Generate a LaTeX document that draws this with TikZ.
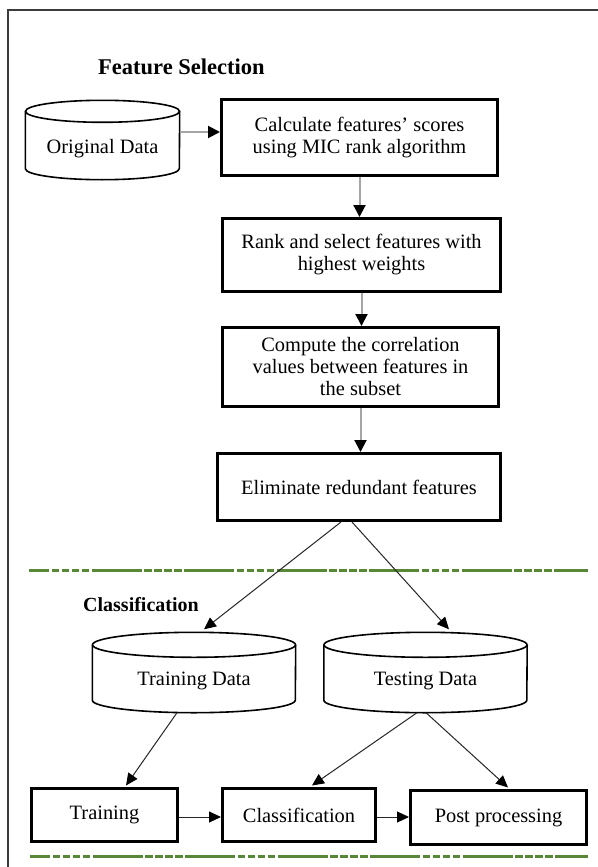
\documentclass[tikz,border=0pt]{standalone}
\usepackage{fontspec}
\setmainfont{Liberation Serif}
\usetikzlibrary{arrows.meta,calc}
\definecolor{framegray}{RGB}{60,60,60}
\definecolor{linkgray}{RGB}{165,165,165}
\definecolor{sepgreen}{RGB}{88,135,55}
\tikzset{
  stepbox/.style={draw=black, line width=3pt, align=center, inner sep=2pt,
    font=\fontsize{20.4}{22}\selectfont},
  drumtext/.style={inner sep=0pt, text height=30pt, text depth=4pt,
    font=\fontsize{20.4}{22}\selectfont},
  drumline/.style={draw=black, line width=1.6pt},
  heading/.style={anchor=west, inner sep=0pt, font=\bfseries\fontsize{20}{22}\selectfont},
  flowgray/.style={draw=linkgray, line width=2pt,
    -{Triangle[length=12pt,width=12pt,color=black]}},
  flowthin/.style={draw=black!85, line width=1pt,
    -{Triangle[length=12pt,width=11pt,color=black]}},
  separator/.style={draw=sepgreen, line width=3pt,
    dash pattern=on 50pt off 2.5pt on 7.5pt off 2.5pt on 7.5pt off 2.5pt on 7.5pt off 2.5pt on 7.5pt off 2.5pt,
    dash phase=30pt},
}
% data store drawn around a named node: #1 node, #2 x radius, #3 y radius of the caps
\newcommand\datadrum[3]{%
  \draw[drumline] ($(#1.north west)+(0,#3)$) -- ($(#1.south west)+(0,-#3)$)
    arc[start angle=180, end angle=0, x radius=#2, y radius=#3]
    -- ($(#1.north east)+(0,#3)$);
  \draw[drumline] ($(#1.north)+(0,#3)$) ellipse[x radius=#2, y radius=#3];
}
\begin{document}
\begin{tikzpicture}[x=1pt, y=-1pt]
\useasboundingbox (0,0) rectangle (597,867);
\fill[white] (0,0) rectangle (597,867);

% outer frame
\draw[framegray, line width=1.5pt] (8,870) -- (8,10) -- (600,10);

% feature selection stage
\node[heading, font=\bfseries\fontsize{22.5}{24}\selectfont] (fshead) at (98,67) {Feature Selection};
\node[drumtext, minimum width=154pt, minimum height=79pt] (orig) at (102.5,140) {Original Data};
\datadrum{orig}{77}{11}

\node[stepbox, minimum width=276pt, minimum height=76pt] (calc) at (359.5,137.5)
  {Calculate features' scores\\using MIC rank algorithm};
\node[stepbox, minimum width=278pt, minimum height=73pt] (rank) at (361.5,255)
  {Rank and select features with\\highest weights};
\node[stepbox, minimum width=276pt, minimum height=79pt] (corr) at (360.5,367)
  {Compute the correlation\\values between features in\\the subset};
\node[stepbox, minimum width=283pt, minimum height=67pt] (elim) at (359,487)
  {Eliminate redundant features};

\draw[flowgray] (orig.east |- 0,132) -- (calc.west |- 0,132);
\draw[flowgray] (calc.south) -- (calc.south |- rank.north);
\draw[flowgray] (rank.south) -- (rank.south |- corr.north);
\draw[flowgray] (corr.south) -- (corr.south |- elim.north);

% stage separators
\draw[separator] (29,570) -- (588,570);
\draw[separator] (30,856) -- (588,856);

% classification stage
\node[heading] (clhead) at (83,605) {Classification};
\node[drumtext, minimum width=203pt, minimum height=80pt] (train) at (194,672.5) {Training Data};
\datadrum{train}{101.5}{12.5}
\node[drumtext, minimum width=203pt, minimum height=80pt] (test) at (425.5,672.5) {Testing Data};
\datadrum{test}{101.5}{12.5}

\node[stepbox, minimum width=146pt, minimum height=53pt] (trainbox) at (104.5,815) {Training};
\node[stepbox, minimum width=153pt, minimum height=53pt] (classbox) at (299,815) {Classification};
\node[stepbox, minimum width=176pt, minimum height=54pt] (postbox) at (498.5,817.5) {Post processing};

\draw[flowthin] ($(elim.south)+(-18,0)$) -- ($(train.north)+(10,-3)$);
\draw[flowthin] ($(elim.south)+(-7,0)$) -- ($(test.north)+(23.5,-3)$);
\draw[flowthin] ($(train.south)+(-17,0)$) -- ($(trainbox.north)+(21.5,-1.5)$);
\draw[flowthin] ($(test.south)+(-8.5,0)$) -- ($(classbox.north)+(13,-1.5)$);
\draw[flowthin] ($(test.south)+(0.5,0)$) -- ($(postbox.north)+(9.5,-1.5)$);
\draw[flowthin] (trainbox.east |- 0,817) -- (classbox.west |- 0,817);
\draw[flowthin] (classbox.east |- 0,817) -- (postbox.west |- 0,817);
\end{tikzpicture}
\end{document}
